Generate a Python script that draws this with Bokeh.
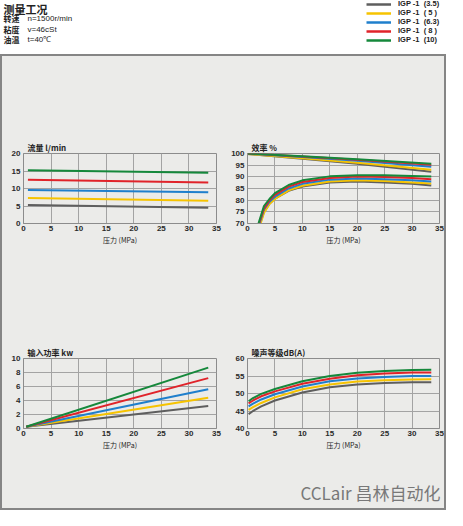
import numpy as np
from bokeh.plotting import figure
from bokeh.layouts import column, row
from bokeh.models import Range1d, FixedTicker, Label, Legend, LegendItem
from bokeh.embed import file_html
from bokeh.resources import INLINE

# ---------------- data ----------------
models = ["IGP -1  (3.5)", "IGP -1  ( 5 )", "IGP -1  (6.3)", "IGP -1  ( 8 )", "IGP -1  (10)"]
colors = ["#5e5e5e", "#f6c300", "#1f7fcc", "#e0232a", "#15883b"]

pressure_ticks = [0, 5, 10, 15, 20, 25, 30, 35]

# flow l/min
flow_x = [0.8, 33.5]
flow_values = [
    [5.3, 4.5],
    [7.3, 6.5],
    [9.6, 8.9],
    [12.5, 11.7],
    [15.2, 14.5],
]
flow_ticks = [0, 5, 10, 15, 20]

# volumetric efficiency %
vol_eff_x = [0, 10, 20, 33.5]
vol_eff_values = [
    [99.8, 97.8, 95.6, 92.2],
    [99.8, 98.0, 96.0, 93.0],
    [100.0, 98.5, 96.9, 94.3],
    [100.0, 98.7, 97.3, 95.2],
    [100.0, 98.8, 97.5, 95.6],
]
# total efficiency %
tot_eff_x = [
    [2.3, 3, 4, 5, 7.5, 10, 15, 20, 25, 30, 33.5],
    [2.4, 3, 4, 5, 7.5, 10, 15, 20, 25, 30, 33.5],
    [2.2, 3, 4, 5, 7.5, 10, 15, 20, 25, 30, 33.5],
    [2.1, 3, 4, 5, 7.5, 10, 15, 20, 25, 30, 33.5],
    [2.0, 3, 4, 5, 7.5, 10, 15, 20, 25, 30, 33.5],
]
tot_eff_values = [
    [70.0, 75.0, 78.5, 80.7, 84.0, 85.8, 87.6, 88.0, 87.6, 87.0, 86.3],
    [70.0, 74.5, 78.3, 80.5, 84.2, 86.2, 88.0, 88.5, 88.2, 87.6, 87.1],
    [70.0, 76.0, 79.3, 81.5, 85.0, 87.0, 88.8, 89.3, 89.0, 88.5, 88.0],
    [70.0, 76.5, 80.0, 82.3, 85.8, 87.8, 89.5, 90.1, 89.9, 89.5, 89.0],
    [70.0, 77.5, 80.5, 83.0, 86.5, 88.5, 90.2, 90.7, 90.7, 90.4, 90.1],
]
eff_ticks = [70, 75, 80, 85, 90, 95, 100]

# input power kW
power_x = [0.5, 33.5]
power_values = [
    [0.25, 3.2],
    [0.25, 4.4],
    [0.25, 5.6],
    [0.25, 7.2],
    [0.25, 8.7],
]
power_ticks = [0, 2, 4, 6, 8, 10]

# noise dB(A)
noise_x = [0.2, 1, 2.5, 5, 10, 15, 20, 25, 30, 33.5]
noise_values = [
    [44.1, 45.0, 46.3, 48.0, 50.3, 51.8, 52.6, 53.0, 53.2, 53.2],
    [45.3, 46.1, 47.3, 48.9, 51.2, 52.6, 53.4, 53.8, 54.0, 54.1],
    [46.3, 47.1, 48.3, 49.8, 52.0, 53.5, 54.3, 54.7, 55.0, 55.0],
    [47.2, 48.0, 49.2, 50.6, 52.8, 54.2, 55.2, 55.7, 56.0, 56.0],
    [47.8, 48.7, 49.9, 51.3, 53.5, 55.0, 55.9, 56.4, 56.7, 56.8],
]
noise_ticks = [40, 45, 50, 55, 60]

header_title = "测量工况"
header_keys = ["转速", "粘度", "油温"]
header_vals = ["n=1500r/min", "v=46cSt", "t=40℃"]
watermark = "CCLair 昌林自动化"

# ---------------- style ----------------
PANEL = "#ebebe9"
FRAME = "#8c8c8c"
GRID = "#a3a3a3"
CJK = "Noto Sans CJK SC"
LAT = "Liberation Sans"


def make_chart(title, yr, yticks, w, h, left, right, top, bottom):
    p = figure(width=w, height=h, x_range=Range1d(0, 35), y_range=Range1d(*yr),
               output_backend="svg", toolbar_location=None,
               min_border_left=left, min_border_right=right,
               min_border_top=top, min_border_bottom=bottom)
    p.background_fill_color = PANEL
    p.border_fill_color = PANEL
    p.outline_line_color = FRAME
    p.title.text = title
    p.title.align = "left"
    p.title.offset = 4
    p.title.standoff = 2
    p.title.text_font = CJK
    p.title.text_font_size = "8px"
    p.title.text_font_style = "bold"
    p.title.text_color = "#222222"
    p.xaxis.ticker = FixedTicker(ticks=pressure_ticks)
    p.yaxis.ticker = FixedTicker(ticks=yticks)
    p.xaxis.axis_label = "压力 (MPa)"
    p.xaxis.axis_label_text_font = CJK
    p.xaxis.axis_label_text_font_size = "7px"
    p.xaxis.axis_label_text_font_style = "normal"
    p.xaxis.axis_label_text_color = "#222222"
    p.xaxis.axis_label_standoff = 1
    for ax in (p.xaxis, p.yaxis):
        ax.axis_line_color = FRAME
        ax.major_tick_line_color = None
        ax.minor_tick_line_color = None
        ax.major_tick_out = 0
        ax.major_tick_in = 0
        ax.major_label_standoff = 3
        ax.major_label_text_font = LAT
        ax.major_label_text_font_size = "8px"
        ax.major_label_text_font_style = "bold"
        ax.major_label_text_color = "#2a2a2a"
    p.xaxis.major_label_standoff = 2
    p.grid.grid_line_color = GRID
    p.grid.grid_line_width = 1
    return p


W = 221
H_TOP = 262
H_BOT = 148

p_flow = make_chart("流量  l/min", (0, 20), flow_ticks, W, H_TOP, 21, 7, 97, 95)
for vals, c in zip(flow_values, colors):
    p_flow.line(flow_x, vals, line_color=c, line_width=2)

p_eff = make_chart("效率 %", (70, 100), eff_ticks, W, H_TOP, 24, 5, 97, 95)
for vals, c in zip(vol_eff_values, colors):
    p_eff.line(vol_eff_x, vals, line_color=c, line_width=2)
for xs, vals, c in zip(tot_eff_x, tot_eff_values, colors):
    p_eff.line(xs, vals, line_color=c, line_width=2)

p_pow = make_chart("输入功率 kw", (0, 10), power_ticks, W, H_BOT, 21, 7, 40, 38)
for vals, c in zip(power_values, colors):
    p_pow.line(power_x, vals, line_color=c, line_width=2)

p_noise = make_chart("噪声等级dB(A)", (40, 60), noise_ticks, W, H_BOT, 24, 5, 40, 38)
for vals, c in zip(noise_values, colors):
    p_noise.line(noise_x, vals, line_color=c, line_width=2)

# ---------------- watermark strip at the bottom of the panel ----------------
WM_W, WM_H = 442, 42
wm = figure(width=WM_W, height=WM_H, x_range=Range1d(0, WM_W), y_range=Range1d(WM_H, 0),
            output_backend="svg", toolbar_location=None, min_border=0,
            x_axis_location=None, y_axis_location=None)
wm.grid.visible = False
wm.outline_line_color = None
wm.background_fill_color = PANEL
wm.border_fill_color = PANEL
wm.add_layout(Label(x=438, y=26, text=watermark, text_align="right", text_baseline="middle",
                    text_font=CJK, text_font_size="17px", text_color="#787878"))

# ---------------- header ----------------
HDR_H = 54
hdr = figure(width=446, height=HDR_H, x_range=Range1d(0, 446), y_range=Range1d(HDR_H, 0),
             output_backend="svg", toolbar_location=None, min_border=0,
             x_axis_location=None, y_axis_location=None)
hdr.grid.visible = False
hdr.outline_line_color = None
hdr.background_fill_color = "white"
hdr.border_fill_color = "white"

hdr.add_layout(Label(x=3, y=8, text=header_title, text_font=CJK, text_font_size="11px",
                     text_font_style="bold", text_baseline="middle", text_color="#222222"))
for i, (k, v) in enumerate(zip(header_keys, header_vals)):
    yy = 18 + i * 10.5
    hdr.add_layout(Label(x=3, y=yy, text=k, text_font=CJK, text_font_size="8px",
                         text_font_style="bold", text_baseline="middle", text_color="#222222"))
    hdr.add_layout(Label(x=27, y=yy, text=v, text_font=LAT, text_font_size="8px",
                         text_baseline="middle", text_color="#222222"))

items = []
for m, c in zip(models, colors):
    # legend-only renderer (single NaN point, draws nothing in the plot area)
    r = hdr.line(x=np.array([np.nan]), y=np.array([np.nan]), line_color=c, line_width=2.5)
    items.append(LegendItem(label=m, renderers=[r]))
legend = Legend(items=items, location=(366, 10), orientation="vertical",
                padding=0, spacing=0, margin=0, glyph_width=25, glyph_height=8,
                label_height=8, label_standoff=7, border_line_color=None,
                background_fill_alpha=0, label_text_font=LAT, label_text_font_size="7.5px",
                label_text_font_style="bold", label_text_color="#222222",
                label_text_line_height=1.0)
hdr.add_layout(legend, "center")

panel = column(row(p_flow, p_eff), row(p_pow, p_noise), wm,
               styles={"border": "2px solid #858585", "background-color": PANEL})

layout = column(hdr, panel)

open("out.html", "w").write(file_html(layout, INLINE))
